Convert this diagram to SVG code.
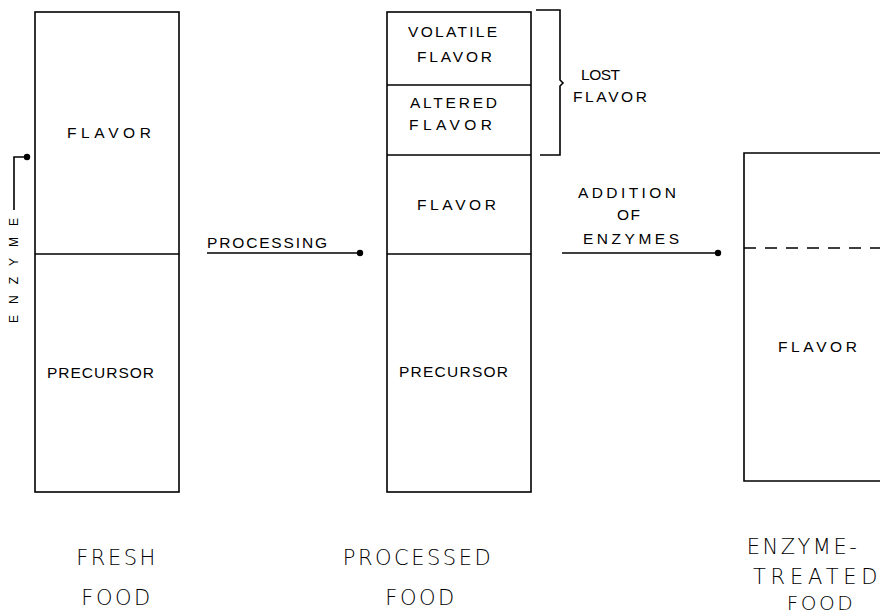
<svg xmlns="http://www.w3.org/2000/svg" width="880" height="615" viewBox="0 0 880 615">
<style>
.box{fill:none;stroke:#000;stroke-width:1.6}
.ln{fill:none;stroke:#000;stroke-width:1.6}
.dash{fill:none;stroke:#000;stroke-width:1.6;stroke-dasharray:12,9}
.lb{font-family:"Liberation Sans",Arial,sans-serif;font-size:15.5px;fill:#000}
.tt{font-family:"DejaVu Sans",sans-serif;font-weight:200;font-size:21px;letter-spacing:2.5px;fill:#000;text-anchor:middle}
</style>
<defs>
<marker id="dot" markerWidth="8" markerHeight="8" refX="4" refY="4" markerUnits="userSpaceOnUse"><circle cx="4" cy="4" r="3.2" fill="#000"/></marker>
</defs>
<rect width="880" height="615" fill="#fff"/>
<g id="fresh-food">
<rect class="box" x="35" y="12" width="144" height="480"/>
<line class="ln" x1="35" y1="254" x2="179" y2="254"/>
<text class="lb" x="67" y="138" textLength="84" lengthAdjust="spacing">FLAVOR</text>
<text class="lb" x="47" y="378" textLength="107" lengthAdjust="spacing">PRECURSOR</text>
<text class="tt" x="117" y="565">FRESH</text>
<text class="tt" x="117" y="605">FOOD</text>
</g>
<g id="processed-food">
<rect class="box" x="387" y="12" width="144" height="480"/>
<line class="ln" x1="387" y1="85" x2="531" y2="85"/>
<line class="ln" x1="387" y1="155" x2="531" y2="155"/>
<line class="ln" x1="387" y1="254" x2="531" y2="254"/>
<text class="lb" x="408" y="37" textLength="89" lengthAdjust="spacing">VOLATILE</text>
<text class="lb" x="417" y="62" textLength="75" lengthAdjust="spacing">FLAVOR</text>
<text class="lb" x="410" y="108" textLength="87" lengthAdjust="spacing">ALTERED</text>
<text class="lb" x="409" y="130" textLength="83" lengthAdjust="spacing">FLAVOR</text>
<text class="lb" x="417" y="210" textLength="79" lengthAdjust="spacing">FLAVOR</text>
<text class="lb" x="399" y="377" textLength="109" lengthAdjust="spacing">PRECURSOR</text>
<text class="tt" x="418" y="565">PROCESSED</text>
<text class="tt" x="421" y="605">FOOD</text>
</g>
<g id="lost-flavor">
<path class="ln" d="M536,10 H560 V80 L563,83 L560,86 V155 H540"/>
<text class="lb" x="581" y="80" textLength="39" lengthAdjust="spacing">LOST</text>
<text class="lb" x="573" y="102" textLength="74" lengthAdjust="spacing">FLAVOR</text>
</g>
<g id="enzyme-treated-food">
<path class="box" d="M882,153 H744 V481 H882"/>
<line class="dash" x1="744" y1="248" x2="880" y2="248"/>
<text class="lb" x="778" y="352" textLength="79" lengthAdjust="spacing">FLAVOR</text>
<text class="tt" x="803" y="554">ENZYME-</text>
<text class="tt" x="753" y="584" style="text-anchor:start" textLength="127" lengthAdjust="spacing">TREATED</text>
<text class="tt" x="821" y="610" style="font-size:20px">FOOD</text>
</g>
<g id="connectors">
<polyline class="ln" points="14,210 14,157 27,157" marker-end="url(#dot)"/>
<text class="lb" transform="translate(18,323) rotate(-90)" style="font-size:12px" textLength="105" lengthAdjust="spacing">ENZYME</text>
<line class="ln" x1="207" y1="253" x2="360" y2="253" marker-end="url(#dot)"/>
<text class="lb" x="207" y="248" textLength="120" lengthAdjust="spacing">PROCESSING</text>
<line class="ln" x1="562" y1="253" x2="718" y2="253" marker-end="url(#dot)"/>
<text class="lb" x="578" y="198" textLength="98" lengthAdjust="spacing">ADDITION</text>
<text class="lb" x="617" y="220" textLength="23" lengthAdjust="spacing">OF</text>
<text class="lb" x="583" y="244" textLength="96" lengthAdjust="spacing">ENZYMES</text>
</g>
</svg>
